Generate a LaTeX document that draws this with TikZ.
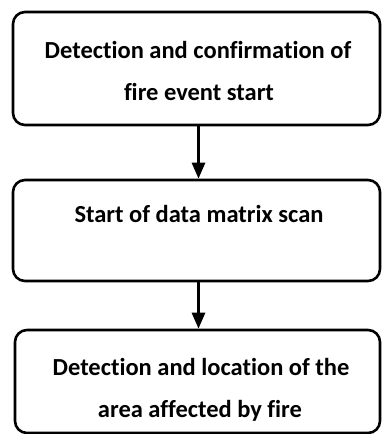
\documentclass[tikz,border=0pt]{standalone}
\usepackage{fontspec}
\setmainfont[Ligatures=NoCommon]{Carlito}
\usetikzlibrary{arrows.meta}
\tikzset{
  box/.style={draw=black, line width=2.6pt, rounded corners=12pt, fill=white, inner sep=0pt},
  txt/.style={font=\bfseries\fontsize{24.5}{28}\selectfont, inner sep=0pt, anchor=base},
  flow/.style={line width=2.8pt, -{Triangle[length=16pt,width=13pt]}}
}
\begin{document}
\begin{tikzpicture}[x=1pt,y=1pt]
  \useasboundingbox (0,0) rectangle (382,-434);
  % process boxes
  \node[box, minimum width=367pt, minimum height=113pt] (b1) at (196.5,-68.5) {};
  \node[box, minimum width=367pt, minimum height=101pt] (b2) at (196.5,-230.5) {};
  \node[box, minimum width=365pt, minimum height=103pt] (b3) at (197.5,-381.5) {};
  % labels
  \node[txt] (t1a) at (198,-58) {Detection and confirmation of};
  \node[txt] (t1b) at (199,-100) {fire event start};
  \node[txt] (t2) at (199,-222) {Start of data matrix scan};
  \node[txt] (t3a) at (201,-375) {Detection and location of the};
  \node[txt] (t3b) at (200,-417) {area affected by fire};
  % flow arrows
  \draw[flow] ([xshift=2pt]b1.south) -- ([xshift=2pt]b2.north);
  \draw[flow] ([xshift=2pt]b2.south) -- ([xshift=1pt]b3.north);
\end{tikzpicture}
\end{document}
